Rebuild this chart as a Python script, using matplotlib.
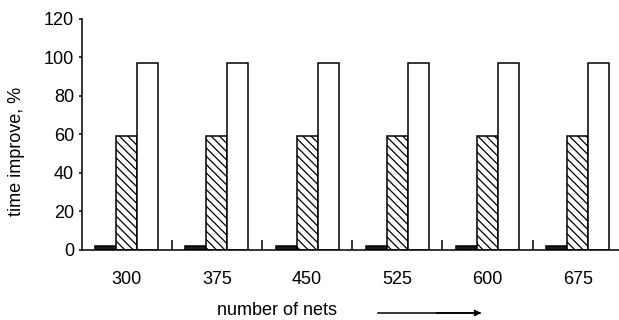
import numpy as np
import matplotlib.pyplot as plt

plt.rcParams['font.family'] = ['Liberation Sans', 'DejaVu Sans']
plt.rcParams['hatch.linewidth'] = 0.9

# data
nets = ['300', '375', '450', '525', '600', '675']
black_vals = [2, 2, 2, 2, 2, 2]
hatch_vals = [59, 59, 59, 59, 59, 59]
white_vals = [97, 97, 97, 97, 97, 97]

x = np.arange(len(nets))
w = 0.233

fig = plt.figure(figsize=(6.19, 3.2), dpi=100)
ax = fig.add_axes([0.132, 0.219, 0.874, 0.722])

ax.bar(x - w, black_vals, w, color='#1a1a1a', edgecolor='black', linewidth=1.1)
ax.bar(x, hatch_vals, w, color='white', edgecolor='black', linewidth=1.1, hatch='\\\\\\\\')
ax.bar(x + w, white_vals, w, color='white', edgecolor='black', linewidth=1.1)

ax.set_xlim(-0.5, 5.5)
ax.set_ylim(0, 120)
ax.set_yticks(range(0, 121, 20))
ax.set_xticks(x)
ax.set_xticklabels(nets)
ax.set_xticks(x[:-1] + 0.5, minor=True)

ax.spines['top'].set_visible(False)
ax.spines['right'].set_visible(False)
ax.spines['left'].set_linewidth(1.1)
ax.spines['bottom'].set_linewidth(1.1)

ax.tick_params(axis='x', which='major', length=0, pad=15, labelsize=13)
ax.tick_params(axis='x', which='minor', direction='in', length=7, width=1.1)
ax.tick_params(axis='y', direction='out', length=2.5, width=1.1, pad=3, labelsize=13)

fig.text(0.027, 0.528, 'time improve, %', rotation=90, fontsize=13, ha='center', va='center')
fig.text(0.448, 0.03, 'number of nets', fontsize=13, ha='center', va='center')
fig.add_artist(plt.Line2D([0.61, 0.775], [0.022, 0.022], color='black', linewidth=1.1))
ax.annotate('', xy=(0.782, 0.022), xytext=(0.70, 0.022), xycoords='figure fraction',
            arrowprops=dict(arrowstyle='-|>', color='black', lw=1.1, mutation_scale=9))

fig.savefig('out.png', dpi=100)
